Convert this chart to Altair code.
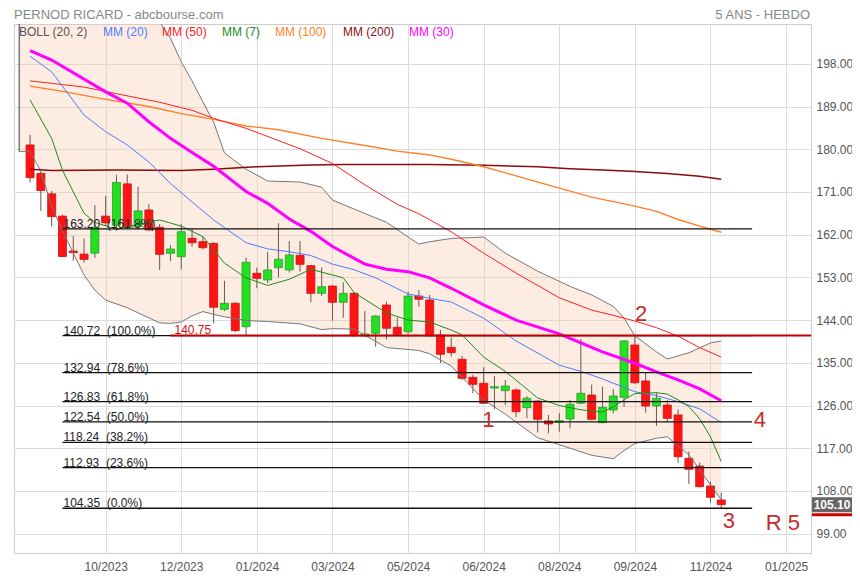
import altair as alt
import pandas as pd

# ---------------- data ----------------
START = pd.Timestamp("2023-09-04")


def wk(i):
    return (START + pd.Timedelta(weeks=i)).strftime("%Y-%m-%d")


opens = [180.9, 174.9, 170.6, 165.9, 158.55, 157.9, 158.1, 165.9, 164.0, 172.7, 163.7, 167.2, 163.55,
         158.07, 157.36, 161.23, 160.52, 160.17, 146.27, 147.54, 142.6, 153.86, 152.45, 155.04, 154.56,
         157.65, 155.46, 149.64, 151.18, 147.75, 149.64, 140.71, 141.21, 147.18, 142.48, 141.55, 149.07,
         148.23, 140.86, 138.27, 135.74, 131.94, 130.68, 129.69, 129.12, 129.27, 125.54, 126.95, 122.74,
         122.46, 123.16, 126.47, 128.21, 122.38, 125.05, 127.73, 138.75, 131.17, 125.9, 126.1, 124.0,
         114.88, 113.25, 109.04, 106.09]
highs = [183.0, 175.2, 171.2, 166.2, 161.7, 161.2, 168.2, 170.15, 174.6, 174.7, 172.1, 168.4, 164.25,
         159.8, 164.25, 163.3, 161.6, 160.4, 152.3, 147.8, 157.15, 155.04, 158.4, 164.4, 160.66, 160.66,
         155.6, 155.1, 151.3, 151.96, 149.9, 145.9, 145.0, 147.87, 144.5, 149.98, 150.34, 149.28, 141.9,
         140.3, 136.44, 132.43, 134.05, 132.22, 131.38, 129.62, 128.0, 127.1, 124.0, 124.36, 127.16,
         140.0, 130.4, 129.96, 129.41, 139.8, 140.72, 132.9, 128.7, 127.16, 125.2, 116.27, 113.95,
         109.95, 107.63]
lows = [173.0, 167.0, 163.7, 157.3, 156.5, 156.1, 157.1, 163.8, 162.8, 163.2, 163.0, 162.8, 154.55,
        156.45, 154.7, 159.5, 158.9, 143.3, 145.9, 141.5, 140.65, 150.7, 151.8, 153.0, 154.0, 154.2,
        147.75, 149.1, 143.87, 144.5, 140.5, 140.5, 138.4, 139.95, 140.7, 141.0, 146.8, 140.5, 134.9,
        136.3, 131.38, 128.57, 126.3, 125.2, 126.1, 123.52, 123.3, 120.3, 120.14, 120.48, 121.2, 126.3,
        123.0, 122.3, 124.36, 125.75, 130.5, 124.5, 121.68, 122.6, 113.95, 109.46, 108.7, 105.52, 104.35]
closes = [174.0, 171.3, 165.8, 157.4, 158.2, 156.8, 163.55, 164.5, 173.0, 163.7, 167.0, 163.0, 157.86,
          158.98, 162.62, 160.3, 159.25, 146.7, 147.54, 141.76, 156.18, 152.8, 154.56, 156.81, 157.72,
          155.75, 149.64, 151.03, 147.75, 149.64, 140.71, 141.07, 144.86, 142.27, 141.0, 149.07, 148.38,
          140.71, 136.79, 137.13, 131.73, 130.47, 126.47, 129.96, 130.11, 124.7, 127.53, 123.1, 122.1,
          122.8, 126.26, 128.57, 123.1, 125.62, 128.0, 139.6, 130.8, 125.9, 127.52, 123.3, 115.21,
          112.56, 108.9, 106.66, 105.10]

# Bollinger bands (20, 2)
band_idx = [-1, 0, 1, 2, 3, 4, 5, 6, 7, 9, 12, 13, 14, 15, 16, 17, 18, 20, 22, 25, 27, 28, 30, 33, 36,
            37, 39, 42, 44, 47, 50, 52, 54, 55, 56, 58, 59, 61, 63, 64]
band_upper = [225, 224, 223, 222, 221, 220, 219, 218, 216.5, 213.5, 206.8, 203.4, 198.4, 194.4, 190.0,
              185.7, 179.2, 175.8, 173.3, 173.1, 172.0, 169.3, 167.4, 164.6, 160.0, 160.5, 161.2, 161.5,
              158.1, 154.3, 151.1, 149.3, 146.9, 144.4, 140.7, 137.3, 135.8, 137.1, 139.2, 139.6]
band_lower = [179.5, 179.5, 175.4, 168.0, 162.8, 158.1, 153.5, 150.3, 148.2, 146.6, 143.4, 143.3, 143.6,
              144.9, 145.8, 145.2, 144.7, 143.9, 143.7, 143.2, 142.0, 142.2, 142.1, 138.2, 137.6, 136.9,
              134.3, 127.2, 124.2, 119.2, 117.0, 115.5, 114.8, 116.5, 118.0, 119.1, 119.4, 115.6, 109.3,
              106.1]

mm7_idx = [0, 2, 3, 5, 6, 8, 10, 12, 14, 16, 18, 20, 22, 24, 26, 28, 29, 30, 33, 35, 37, 39, 40, 42, 44,
           47, 49, 51, 53, 54, 55, 56, 58, 59, 60, 61, 62, 63, 64]
mm7_val = [190.4, 182.3, 175.6, 166.5, 164.6, 163.1, 164.2, 165.1, 163.8, 161.6, 156.0, 152.9, 151.3,
           152.6, 154.7, 153.5, 152.9, 149.8, 145.5, 144.0, 143.6, 141.9, 140.9, 136.2, 133.2, 127.6,
           126.0, 125.1, 124.6, 125.7, 127.2, 128.5, 128.7, 128.4, 127.2, 125.8, 123.2, 119.4, 114.2]

mm20_idx = [0, 2, 5, 7, 9, 11, 13, 15, 17, 20, 22, 24, 26, 28, 30, 32, 35, 37, 39, 42, 45, 49, 51, 53,
            56, 58, 60, 62, 64]
mm20_val = [199.6, 196.3, 187.2, 183.7, 180.9, 177.3, 172.8, 168.9, 165.1, 160.3, 159.0, 158.4, 157.6,
            155.8, 154.6, 152.9, 149.5, 148.6, 147.8, 144.4, 139.6, 134.5, 133.2, 131.6, 128.9, 128.1,
            126.8, 125.3, 122.4]

mm30_idx = [0, 2, 7, 9, 11, 13, 15, 17, 20, 22, 24, 26, 28, 31, 33, 35, 37, 39, 42, 45, 49, 53, 56, 58,
            60, 62, 64]
mm30_val = [200.8, 198.8, 192.1, 189.7, 185.8, 182.3, 179.3, 176.4, 171.1, 168.6, 165.3, 162.7, 159.5,
            155.8, 154.7, 154.2, 152.9, 150.7, 147.2, 144.0, 141.1, 137.3, 134.9, 133.1, 131.4, 129.5,
            127.0]

mm50_idx = [0, 5, 8, 12, 15, 17, 20, 25, 28, 31, 34, 36, 39, 42, 45, 49, 52, 54, 56, 58, 60, 62, 64]
mm50_val = [194.4, 193.1, 191.7, 189.9, 188.2, 186.5, 184.4, 180.1, 177.0, 172.5, 168.4, 166.4, 162.6,
            158.1, 153.9, 148.7, 146.1, 145.0, 143.8, 142.4, 140.6, 138.2, 136.2]

mm100_idx = [0, 3, 7, 11, 14, 17, 20, 23, 27, 31, 34, 37, 39, 42, 45, 49, 52, 56, 58, 60, 62, 64]
mm100_val = [193.3, 192.2, 190.5, 189.0, 187.5, 186.3, 184.9, 184.1, 182.3, 180.8, 179.6, 178.8, 177.9,
             176.3, 174.4, 171.8, 169.9, 168.0, 166.9, 165.2, 163.8, 162.5]

mm200_idx = [0, 2, 8, 14, 17, 21, 26, 29, 37, 42, 47, 50, 53, 56, 59, 62, 64]
mm200_val = [175.8, 175.5, 175.6, 175.5, 175.8, 176.3, 176.7, 176.8, 176.8, 176.6, 176.3, 175.9, 175.6,
             175.3, 174.9, 174.3, 173.7]

fib_values = [163.20, 140.72, 132.94, 126.83, 122.54, 118.24, 112.93, 104.35]
fib_pcts = ["161.8%", "100.0%", "78.6%", "61.8%", "50.0%", "38.2%", "23.6%", "0.0%"]
fib_start, fib_end = "2023-09-25", "2024-12-15"

resist_value = 140.75
resist_start, resist_end = "2023-12-04", "2025-02-28"

annot_labels = ["1", "2", "3", "4", "R 5"]
annot_dates = ["2024-06-27", "2024-10-04", "2024-11-30", "2024-12-20", "2025-01-04"]
annot_values = [122.95, 145.3, 101.7, 122.95, 101.25]

legend_labels = ["BOLL (20, 2)", "MM (20)", "MM (50)", "MM (7)", "MM (100)", "MM (200)", "MM (30)"]
legend_colors = ["#555555", "#4d7cff", "#ff2020", "#1c8c1c", "#ff7f27", "#8b1010", "#ff00ff"]
legend_x = [5, 89, 148, 208, 261, 329, 395]

y_ticks = [99, 108, 117, 126, 135, 144, 153, 162, 171, 180, 189, 198]
x_ticks = [(2023, 10, 23), (2023, 12, 11), (2024, 1, 29), (2024, 3, 18), (2024, 5, 6), (2024, 6, 24),
           (2024, 8, 12), (2024, 9, 30), (2024, 11, 18), (2025, 1, 6)]

last_price = 105.10

# ---------------- tables ----------------
dates = [wk(i) for i in range(len(opens))]
candles = pd.DataFrame({"date": dates, "open": opens, "high": highs, "low": lows, "close": closes})
candles["dir"] = ["up" if c >= o else "down" for o, c in zip(opens, closes)]

band = pd.DataFrame({"date": [wk(i) for i in band_idx], "upper": band_upper, "lower": band_lower})


def ma_df(idx, vals):
    return pd.DataFrame({"date": [wk(i) for i in idx], "v": vals})


fib = pd.DataFrame({
    "start": [fib_start] * len(fib_values),
    "end": [fib_end] * len(fib_values),
    "v": fib_values,
    "label": [f"{v:.2f}\u00a0 ({p})" for v, p in zip(fib_values, fib_pcts)],
})
resist = pd.DataFrame({"start": [resist_start], "end": [resist_end], "v": [resist_value],
                       "label": [f"{resist_value:.2f}"]})
annots = pd.DataFrame({"date": annot_dates, "v": annot_values, "label": annot_labels})
price = pd.DataFrame({"v": [last_price]})
dummy = pd.DataFrame({"a": [0]})

# ---------------- scales / axes ----------------
x_scale = alt.Scale(type="utc", domain=[
    alt.DateTime(year=2023, month=8, date=27, hours=20, utc=True),
    alt.DateTime(year=2025, month=1, date=18, hours=22, utc=True)])
x_axis = alt.Axis(values=[alt.DateTime(year=y, month=m, date=d, utc=True) for y, m, d in x_ticks],
                  format="%m/%Y", grid=True, ticks=False, domain=False, labelColor="#555555",
                  labelFontSize=12, labelFont="Liberation Sans", labelPadding=8,
                  gridColor="#dcdcdc", title=None, labelFlush=False, labelOverlap=False)
y_scale = alt.Scale(domain=[94.92, 206.39], nice=False, zero=False)
y_axis = alt.Axis(orient="right", values=y_ticks, format=".2f", grid=True, ticks=False, domain=False,
                  labelColor="#555555", labelFontSize=12, labelFont="Liberation Sans", labelPadding=5,
                  gridColor="#dcdcdc", title=None)


def X(f):
    return alt.X(f"{f}:T", scale=x_scale, axis=x_axis, title=None)


def Y(f):
    return alt.Y(f"{f}:Q", scale=y_scale, axis=y_axis, title=None)


layers = []

# Bollinger fill
layers.append(alt.Chart(band).mark_area(color="#f9c9ac", opacity=0.35, clip=True).encode(
    x=X("date"), y=Y("upper"), y2="lower"))

# candles
layers.append(alt.Chart(candles).mark_rule(color="#6b5555", strokeWidth=1, clip=True).encode(
    x=X("date"), y=Y("low"), y2="high"))
layers.append(alt.Chart(candles).mark_bar(size=8, strokeWidth=0.8, clip=True).encode(
    x=X("date"), y=Y("open"), y2="close",
    color=alt.Color("dir:N", scale=alt.Scale(domain=["up", "down"], range=["#22e022", "#ff1414"]),
                    legend=None),
    stroke=alt.Stroke("dir:N", scale=alt.Scale(domain=["up", "down"], range=["#2a9a2a", "#c81010"]),
                      legend=None)))

# Bollinger lines
for col in ["upper", "lower"]:
    layers.append(alt.Chart(band).mark_line(color="#777777", strokeWidth=1, clip=True).encode(
        x=X("date"), y=Y(col)))
layers.append(alt.Chart(band.iloc[[0]]).mark_rule(color="#777777", strokeWidth=1.5, clip=True).encode(
    x=X("date"), y=Y("lower"), y2="upper"))

# moving averages
for idx, vals, color, w in [
    (mm200_idx, mm200_val, "#8b0a0a", 1.5),
    (mm100_idx, mm100_val, "#ff7f27", 1.4),
    (mm50_idx, mm50_val, "#ff2020", 1.0),
    (mm30_idx, mm30_val, "#ff00ff", 3.0),
    (mm20_idx, mm20_val, "#4d7cff", 1.0),
    (mm7_idx, mm7_val, "#1c8c1c", 1.0),
]:
    layers.append(alt.Chart(ma_df(idx, vals)).mark_line(color=color, strokeWidth=w, clip=True).encode(
        x=X("date"), y=Y("v")))

# Fibonacci levels
layers.append(alt.Chart(fib).mark_rule(color="#111111", strokeWidth=1.3, clip=True).encode(
    x=X("start"), x2="end", y=Y("v")))
layers.append(alt.Chart(fib).mark_text(align="left", baseline="alphabetic", dx=1, dy=-1, fontSize=12,
                                       font="Liberation Sans", color="#222222").encode(
    x=X("start"), y=Y("v"), text="label:N"))

# resistance line
layers.append(alt.Chart(resist).mark_rule(color="#c00000", strokeWidth=2, clip=True).encode(
    x=X("start"), x2="end", y=Y("v")))
layers.append(alt.Chart(resist).mark_text(align="left", baseline="alphabetic", dx=4, dy=-2, fontSize=12,
                                          font="Liberation Sans", color="#d01010").encode(
    x=X("start"), y=Y("v"), text="label:N"))

# wave annotations
layers.append(alt.Chart(annots).mark_text(align="center", baseline="middle", fontSize=22,
                                          font="Liberation Sans", color="#c62a2a").encode(
    x=X("date"), y=Y("v"), text="label:N"))

# legend row
for lab, px, col in zip(legend_labels, legend_x, legend_colors):
    layers.append(alt.Chart(dummy).mark_text(text=lab, align="left", baseline="middle", fontSize=12,
                                             font="Liberation Sans", color=col).encode(
        x=alt.value(px), y=alt.value(8)))

# titles
layers.append(alt.Chart(dummy).mark_text(text="PERNOD RICARD - abcbourse.com", align="left",
                                         baseline="middle", fontSize=13, font="Liberation Sans",
                                         color="#888888").encode(x=alt.value(0), y=alt.value(-9)))
layers.append(alt.Chart(dummy).mark_text(text="5 ANS - HEBDO", align="right", baseline="middle",
                                         fontSize=13, font="Liberation Sans",
                                         color="#888888").encode(x=alt.value(796), y=alt.value(-9)))

# last price tag
layers.append(alt.Chart(price).mark_rule(color="#666666", strokeWidth=15).encode(
    x=alt.value(798), x2=alt.value(838), y=Y("v")))
layers.append(alt.Chart(price).mark_rule(color="#cc0000", strokeWidth=3, yOffset=10).encode(
    x=alt.value(798), x2=alt.value(838), y=Y("v")))
layers.append(alt.Chart(price).mark_text(color="white", fontWeight="bold", fontSize=12,
                                         font="Liberation Sans", align="center",
                                         baseline="middle").encode(
    x=alt.value(818), y=Y("v"), text=alt.Text("v:Q", format=".2f")))

chart = alt.layer(*layers).properties(
    width=797, height=529,
    autosize=alt.AutoSizeParams(type="none"),
    padding={"left": 6, "top": 16, "right": 41, "bottom": 19},
    background="white",
).configure_view(stroke="#cccccc", strokeWidth=1)

chart.save("out.html", embed_options={"renderer": "svg", "actions": False})
